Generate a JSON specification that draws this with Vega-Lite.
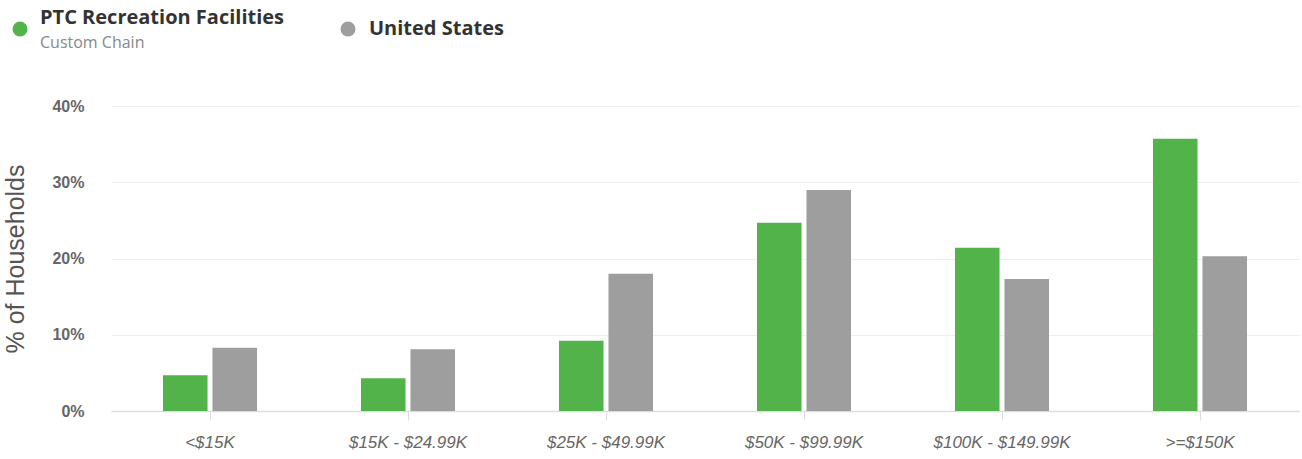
{
  "$schema": "https://vega.github.io/schema/vega-lite/v6.json",
  "width": 1188,
  "height": 305,
  "autosize": "none",
  "padding": {"left": 111, "top": 106, "right": 3, "bottom": 48},
  "background": "white",
  "config": {"view": {"stroke": null}},
  "title": {
    "text": "PTC Recreation Facilities",
    "subtitle": "Custom Chain",
    "anchor": "start",
    "orient": "top",
    "frame": "group",
    "dx": -71,
    "offset": 0,
    "dy": 32,
    "font": "Open Sans",
    "fontSize": 20,
    "fontWeight": "bold",
    "color": "#333333",
    "subtitleFont": "Open Sans",
    "subtitleFontSize": 16,
    "subtitleColor": "#888888",
    "subtitlePadding": 7
  },
  "data": {
    "values": [
      {"category": "<$15K", "series": "PTC Recreation Facilities", "value": 4.7},
      {"category": "<$15K", "series": "United States", "value": 8.3},
      {"category": "$15K - $24.99K", "series": "PTC Recreation Facilities", "value": 4.3},
      {"category": "$15K - $24.99K", "series": "United States", "value": 8.1},
      {"category": "$25K - $49.99K", "series": "PTC Recreation Facilities", "value": 9.2},
      {"category": "$25K - $49.99K", "series": "United States", "value": 18.0},
      {"category": "$50K - $99.99K", "series": "PTC Recreation Facilities", "value": 24.7},
      {"category": "$50K - $99.99K", "series": "United States", "value": 29.0},
      {"category": "$100K - $149.99K", "series": "PTC Recreation Facilities", "value": 21.4},
      {"category": "$100K - $149.99K", "series": "United States", "value": 17.3},
      {"category": ">=$150K", "series": "PTC Recreation Facilities", "value": 35.7},
      {"category": ">=$150K", "series": "United States", "value": 20.3}
    ]
  },
  "mark": {"type": "bar"},
  "encoding": {
    "x": {
      "field": "category",
      "type": "nominal",
      "sort": ["<$15K", "$15K - $24.99K", "$25K - $49.99K", "$50K - $99.99K", "$100K - $149.99K", ">=$150K"],
      "scale": {"paddingInner": 0.525, "paddingOuter": 0.2625},
      "axis": {
        "title": null,
        "labelAngle": 0,
        "labelFont": "Liberation Sans",
        "labelFontSize": 17,
        "labelFontStyle": "italic",
        "labelColor": "#666666",
        "labelPadding": 14,
        "ticks": true,
        "tickColor": "#dddddd",
        "tickSize": 9,
        "domain": true,
        "domainColor": "#dddddd",
        "domainWidth": 1.5
      }
    },
    "xOffset": {
      "field": "series",
      "sort": ["PTC Recreation Facilities", "United States"],
      "scale": {"paddingInner": 0.1, "paddingOuter": 0}
    },
    "y": {
      "field": "value",
      "type": "quantitative",
      "scale": {"domain": [0, 40], "nice": false},
      "axis": {
        "title": "% of Households",
        "titleFont": "Liberation Sans",
        "titleFontSize": 25,
        "titleFontWeight": "normal",
        "titleColor": "#555555",
        "titlePadding": 23,
        "values": [0, 10, 20, 30, 40],
        "labelExpr": "datum.value + '%'",
        "labelFont": "Liberation Sans",
        "labelFontSize": 16,
        "labelFontWeight": "bold",
        "labelColor": "#666666",
        "labelPadding": 27,
        "ticks": false,
        "domain": false,
        "grid": true,
        "gridColor": "#eeeeee"
      }
    },
    "color": {
      "field": "series",
      "type": "nominal",
      "scale": {"domain": ["PTC Recreation Facilities", "United States"], "range": ["#52b34b", "#9e9e9e"]},
      "legend": {
        "title": null,
        "orient": "none",
        "legendX": -101,
        "legendY": -87,
        "direction": "horizontal",
        "symbolType": "circle",
        "symbolSize": 225,
        "symbolStrokeWidth": 0,
        "labelExpr": "datum.label == 'United States' ? datum.label : ''",
        "labelFont": "Open Sans",
        "labelFontSize": 20,
        "labelFontWeight": "bold",
        "labelColor": "#333333",
        "labelOffset": 11,
        "columnPadding": 297
      }
    }
  }
}
